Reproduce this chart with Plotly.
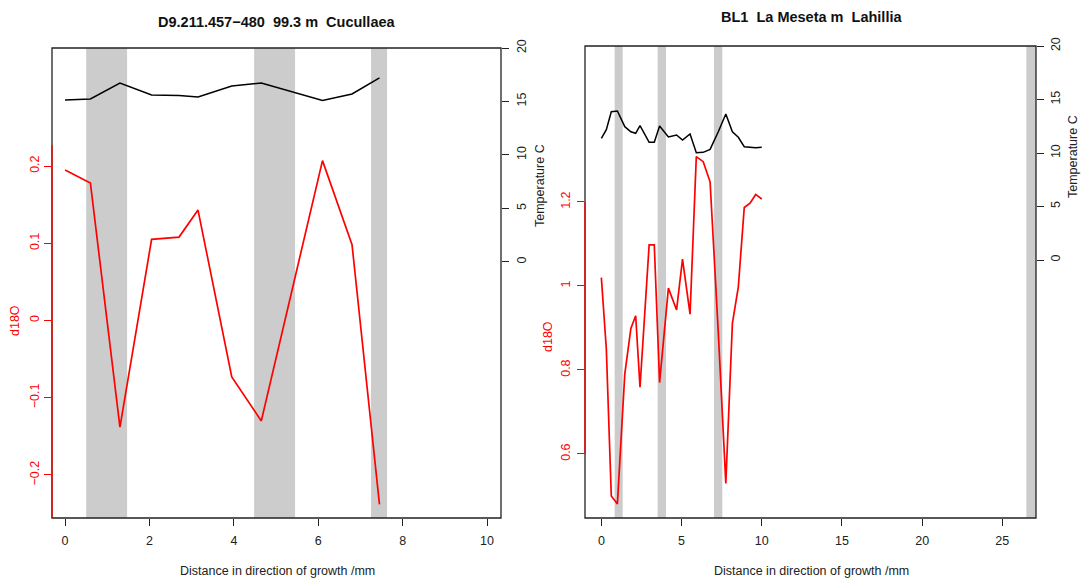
import plotly.graph_objects as go

W, H = 1081, 581

# ---------------- data ----------------
# Left panel: D9.211.457-480  99.3 m  Cucullaea
left_title = "D9.211.457\u2212480 \u00a099.3 m \u00a0Cucullaea"
left_dist = [0, 0.6, 1.3, 2.05, 2.7, 3.15, 3.95, 4.65, 6.1, 6.8, 7.45]
left_d18o = [0.195, 0.178, -0.138, 0.105, 0.108, 0.143, -0.073, -0.130, 0.207, 0.098, -0.238]
left_temp = [15.14, 15.23, 16.73, 15.61, 15.56, 15.42, 16.45, 16.73, 15.10, 15.70, 17.20]
left_band_start = [0.5, 4.48, 7.25]
left_band_end = [1.47, 5.45, 7.63]
left_xticks = [0, 2, 4, 6, 8, 10]
left_d18o_ticks = [-0.2, -0.1, 0, 0.1, 0.2]
left_d18o_ticklabels = ["\u22120.2", "\u22120.1", "0", "0.1", "0.2"]

# Right panel: BL1  La Meseta m  Lahillia
right_title = "BL1 \u00a0La Meseta m \u00a0Lahillia"
right_dist = [0, 0.31, 0.62, 1.0, 1.46, 1.84, 2.14, 2.41, 2.98, 3.3, 3.63, 4.18, 4.69,
              5.06, 5.53, 5.92, 6.35, 6.78, 7.29, 7.76, 8.17, 8.54, 8.91, 9.27, 9.62, 10.0]
right_d18o = [1.02, 0.85, 0.50, 0.481, 0.79, 0.899, 0.929, 0.759, 1.098, 1.098, 0.770, 0.995, 0.943,
              1.064, 0.933, 1.308, 1.296, 1.248, 0.89, 0.530, 0.911, 0.998, 1.187, 1.197, 1.218, 1.207]
right_temp = [11.37, 12.18, 13.86, 13.93, 12.46, 11.99, 11.84, 12.55, 11.0, 11.0, 12.52, 11.50, 11.68,
              11.21, 11.78, 10.03, 10.06, 10.34, 11.99, 13.64, 11.99, 11.47, 10.59, 10.55, 10.50, 10.53]
right_band_start = [0.83, 3.51, 7.02, 26.5]
right_band_end = [1.33, 4.03, 7.54, 27.2]
right_xticks = [0, 5, 10, 15, 20, 25]
right_d18o_ticks = [0.6, 0.8, 1.0, 1.2]
right_d18o_ticklabels = ["0.6", "0.8", "1", "1.2"]

temp_ticks = [0, 5, 10, 15, 20]
x_title = "Distance in direction of growth /mm"
d18o_title = "d18O"
temp_title = "Temperature C"

# ---------------- layout geometry ----------------
def px_x(p):
    return p / W

def px_y(p):
    return 1 - p / H

FONT = "Liberation Sans, Arial, Helvetica, sans-serif"
RED = "#FF0000"
BAND = "#CCCCCC"
FRAME = "#222222"

fig = go.Figure()

fig.add_trace(go.Scatter(x=left_dist, y=left_d18o, mode="lines", xaxis="x", yaxis="y",
                         line=dict(color=RED, width=1.7), showlegend=False))
fig.add_trace(go.Scatter(x=left_dist, y=left_temp, mode="lines", xaxis="x", yaxis="y2",
                         line=dict(color="black", width=1.5), showlegend=False))
fig.add_trace(go.Scatter(x=right_dist, y=right_d18o, mode="lines", xaxis="x2", yaxis="y3",
                         line=dict(color=RED, width=1.7), showlegend=False))
fig.add_trace(go.Scatter(x=right_dist, y=right_temp, mode="lines", xaxis="x2", yaxis="y4",
                         line=dict(color="black", width=1.5), showlegend=False))

tickfont = dict(family=FONT, size=12.5, color="#222")
redfont = dict(family=FONT, size=12.5, color=RED)

common_x = dict(showgrid=False, zeroline=False, showline=False, ticks="outside", ticklen=7,
                tickcolor=FRAME, tickwidth=1, tickfont=tickfont, fixedrange=True, automargin=False)
common_y = dict(showgrid=False, zeroline=False, showline=False, ticks="outside", ticklen=7,
                tickwidth=1, tickangle=-90, fixedrange=True, automargin=False)

fig.update_layout(
    template="none",
    width=W, height=H, autosize=False,
    margin=dict(l=0, r=0, t=0, b=0, pad=0, autoexpand=False),
    paper_bgcolor="white", plot_bgcolor="white",
    showlegend=False,
    xaxis=dict(domain=[px_x(52), px_x(501)], range=[-0.31, 10.33], anchor="y",
               tickvals=left_xticks, ticklabelstandoff=4, **common_x),
    yaxis=dict(domain=[px_y(518), px_y(48)], range=[-0.2557, 0.3528], anchor="x", side="left",
               tickvals=left_d18o_ticks, ticktext=left_d18o_ticklabels, tickcolor=RED,
               tickfont=redfont, ticklabelstandoff=0, **common_y),
    yaxis2=dict(domain=[px_y(518), px_y(48)], range=[-23.93, 20], anchor="x", overlaying="y",
                side="right", tickvals=temp_ticks, tickcolor=FRAME, tickfont=tickfont,
                ticklabelstandoff=2, **common_y),
    xaxis2=dict(domain=[px_x(585), px_x(1036)], range=[-1.02, 27.1], anchor="y3",
                tickvals=right_xticks, ticklabelstandoff=4, **common_x),
    yaxis3=dict(domain=[px_y(518), px_y(46)], range=[0.4476, 1.5714], anchor="x2", side="left",
                tickvals=right_d18o_ticks, ticktext=right_d18o_ticklabels, tickcolor=RED,
                tickfont=redfont, ticklabelstandoff=2, **common_y),
    yaxis4=dict(domain=[px_y(518), px_y(46)], range=[-24.11, 20], anchor="x2", overlaying="y3",
                side="right", tickvals=temp_ticks, tickcolor=FRAME, tickfont=tickfont,
                ticklabelstandoff=1, **common_y),
)

shapes = []
for s, e in zip(left_band_start, left_band_end):
    shapes.append(dict(type="rect", xref="x", yref="y domain", x0=s, x1=e, y0=0, y1=1,
                       fillcolor=BAND, line=dict(width=0), layer="below"))
for s, e in zip(right_band_start, right_band_end):
    shapes.append(dict(type="rect", xref="x2", yref="y3 domain", x0=s, x1=min(e, 27.1), y0=0, y1=1,
                       fillcolor=BAND, line=dict(width=0), layer="below"))
# frames
shapes.append(dict(type="rect", xref="x domain", yref="y domain", x0=0, x1=1, y0=0, y1=1,
                   line=dict(color=FRAME, width=1.3), fillcolor="rgba(0,0,0,0)", layer="above"))
shapes.append(dict(type="rect", xref="x2 domain", yref="y3 domain", x0=0, x1=1, y0=0, y1=1,
                   line=dict(color=FRAME, width=1.3), fillcolor="rgba(0,0,0,0)", layer="above"))
# red d18O axis lines
shapes.append(dict(type="line", xref="x domain", yref="y", x0=0, x1=0, y0=-0.2557, y1=0.227,
                   line=dict(color=RED, width=1.3), layer="above"))
shapes.append(dict(type="line", xref="x2 domain", yref="y3", x0=0, x1=0, y0=0.6, y1=1.2,
                   line=dict(color=RED, width=1.3), layer="above"))
fig.update_layout(shapes=shapes)

ann = []
def add_text(text, x, y, size=12.5, color="#222", angle=0, bold=False):
    t = f"<b>{text}</b>" if bold else text
    ann.append(dict(text=t, x=px_x(x), y=px_y(y), xref="paper", yref="paper",
                    showarrow=False, textangle=angle, xanchor="center", yanchor="middle",
                    font=dict(family=FONT, size=size, color=color)))

add_text(left_title, 277, 22, size=14.5, color="#111", bold=True)
add_text(right_title, 811, 17, size=14.5, color="#111", bold=True)
add_text(x_title, 277, 571)
add_text(x_title, 811, 571)
add_text(d18o_title, 15, 320, color=RED, angle=-90)
add_text(d18o_title, 548, 337, color=RED, angle=-90)
add_text(temp_title, 540, 186, angle=-90)
add_text(temp_title, 1073, 157, angle=-90)
fig.update_layout(annotations=ann)

fig.write_html("out.html")
